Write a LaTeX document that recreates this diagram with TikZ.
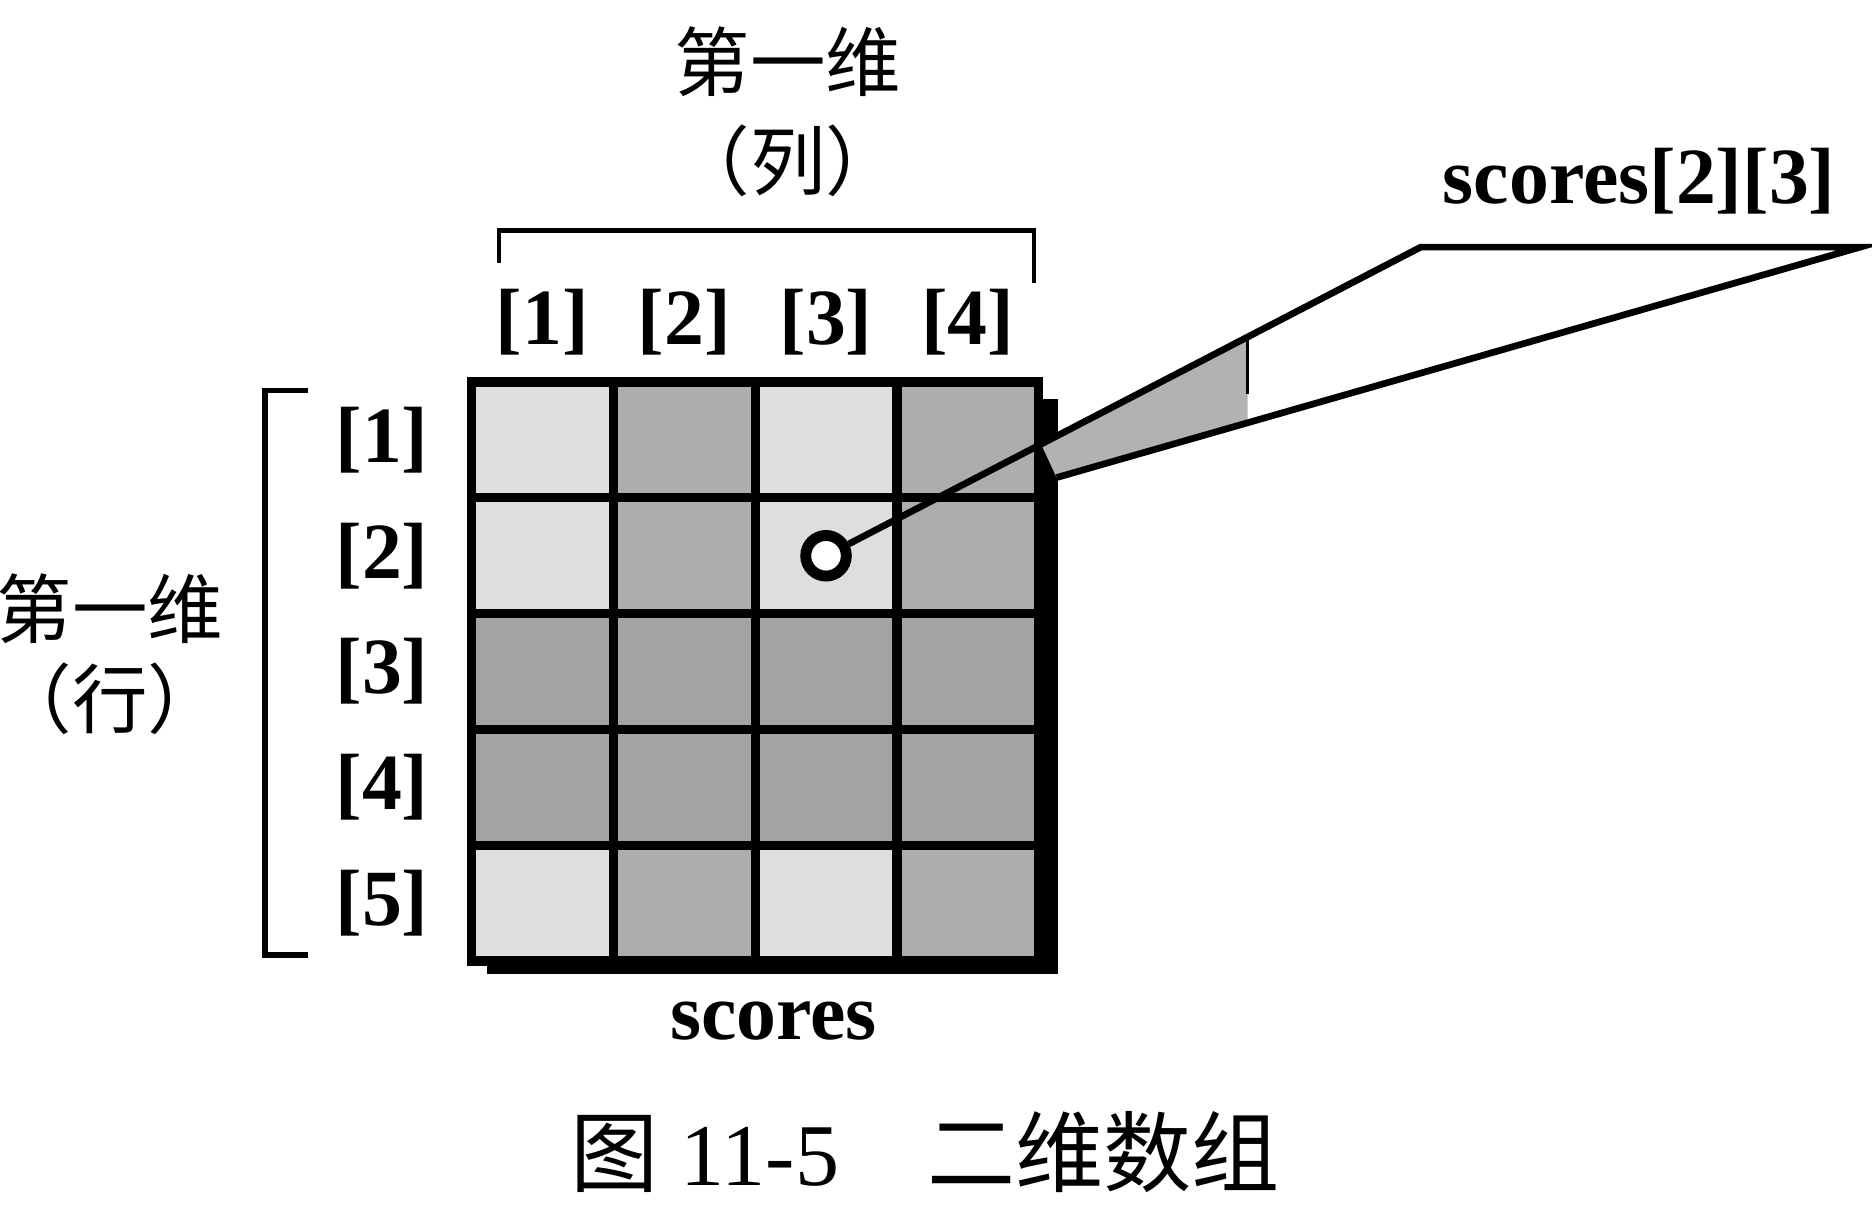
\documentclass[tikz,border=0pt]{standalone}
\usepackage{fontspec}
\setmainfont{Liberation Serif}
\newfontfamily\cjk{Noto Sans CJK SC}
\usetikzlibrary{positioning}

\tikzset{
  cellbox/.style={draw, line width=2.2pt, minimum width=1.1875cm, minimum height=0.97cm, inner sep=0pt},
  idx/.style={font=\fontsize{19}{22}\selectfont\bfseries},
  cnlbl/.style={font=\cjk\fontsize{18}{22}\selectfont},
  brace/.style={line width=1.1pt},
  callout/.style={line width=1.6pt, line join=miter}
}

\begin{document}
\begin{tikzpicture}
  \useasboundingbox (0,0) rectangle (15.68,-10.10);

  % shadow behind the array
  \fill (4.08,-3.34) rectangle (8.86,-8.16);

  % the 5x4 cells
  \foreach \r in {1,...,5} {
    \foreach \c in {1,...,4} {
      \pgfmathtruncatemacro\shade{(\r==3 || \r==4) ? 36 : (iseven(\c) ? 32 : 13)}
      \node[cellbox, fill=black!\shade] (c-\r-\c) at ({3.95+(\c-0.5)*1.1875},{-(3.20+(\r-0.5)*0.97)}) {};
    }
  }

  % column index bracket
  \draw[brace] (4.18,-2.20) -- (4.18,-1.93) -- (8.66,-1.93) -- (8.66,-2.37);
  \foreach \c in {1,...,4}
    \node[idx] (col-\c) at (c-1-\c.north |- 0,-2.70) {[\c]};
  \node[cnlbl] (coltitle) at (6.60,-0.52) {第一维};
  \node[cnlbl] (colsub) at (6.60,-1.35) {（列）};

  % row index bracket
  \draw[brace, line width=1.3pt] (2.58,-3.27) -- (2.22,-3.27) -- (2.22,-8.00) -- (2.58,-8.00);
  \foreach \r in {1,...,5}
    \node[idx] (row-\r) at (3.20,0 |- c-\r-1.center) {[\r]};
  \node[cnlbl] (rowtitle) at (0.92,-5.10) {第一维};
  \node[cnlbl] (rowsub) at (0.92,-5.85) {（行）};

  % element callout
  \coordinate (bend) at (11.90,-2.07);
  \coordinate (tip) at (15.58,-2.07);
  \coordinate (foot) at (8.85,-4.00);
  \fill[black!30] (8.72,-3.72) -- (10.45,-2.82) -- (10.45,-3.54) -- (8.85,-4.00) -- cycle;
  \draw[line width=0.8pt] (10.45,-2.82) -- (10.45,-3.30);
  \node[circle, draw, line width=2.6pt, fill=white, minimum size=0.34cm, inner sep=0pt] (pick) at (c-2-3.center) {};
  \draw[callout] (pick) -- (bend) -- (tip) -- (foot);
  \node[idx] (elem) at (13.73,-1.52) {scores[2][3]};

  \node[idx] (name) at (6.48,-8.55) {scores};
  \node[font=\fontsize{21}{24}\selectfont] (caption) at (7.75,-9.65) {{\cjk 图}~11-5\quad{\cjk 二维数组}};
\end{tikzpicture}
\end{document}
